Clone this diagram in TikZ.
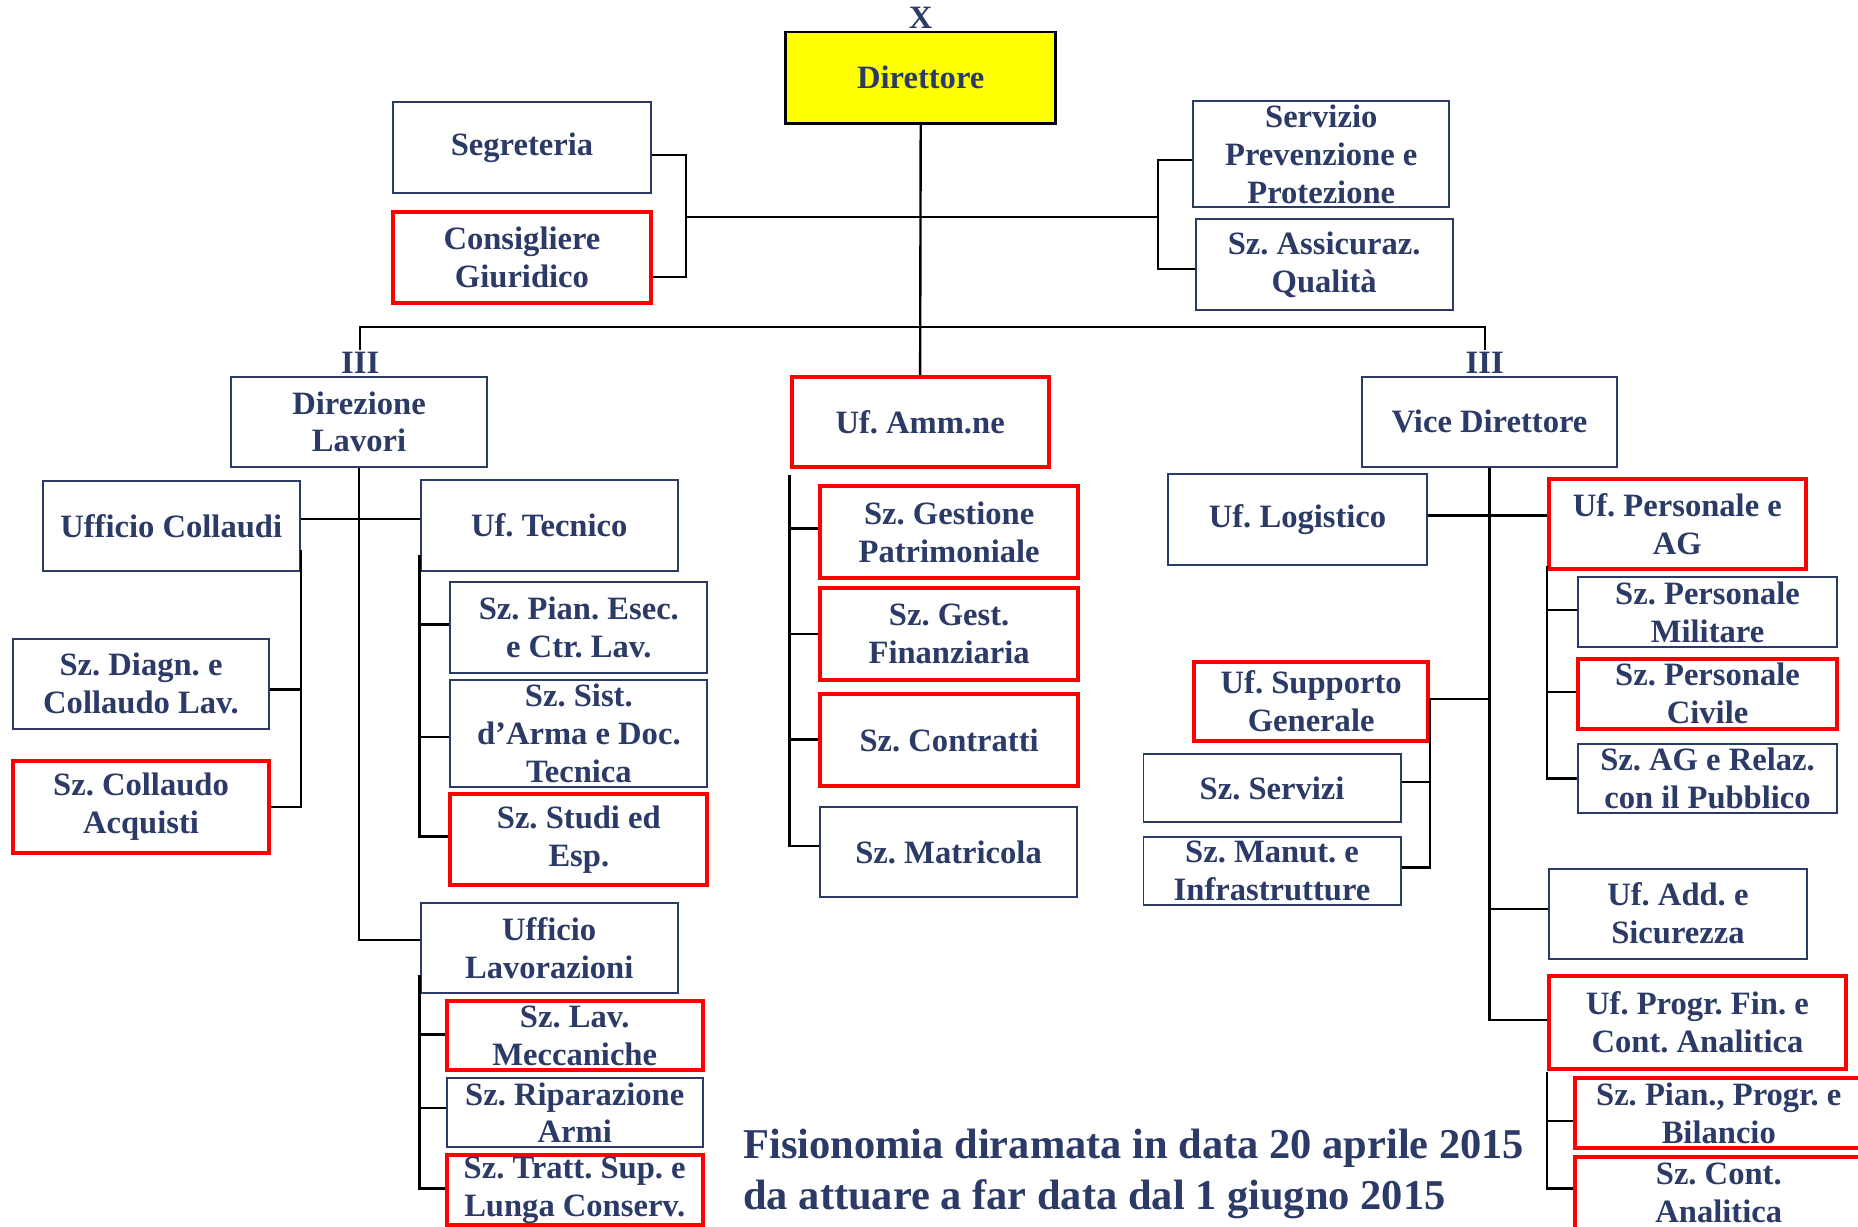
\documentclass[tikz,border=0pt]{standalone}
\usepackage{fontspec}
\setmainfont{Liberation Serif}
\frenchspacing
\definecolor{navy}{HTML}{2B3A66}
\definecolor{boxred}{HTML}{FF0000}
\definecolor{diryellow}{HTML}{FFFF00}
\newcommand\bx[7][box]{%
  \pgfmathsetmacro\bxw{0.6*(#5-#3)}%
  \pgfmathsetmacro\bxh{0.6*(#6-#4)}%
  \node[#1, minimum width=\bxw pt, minimum height=\bxh pt] (#2) at ({(#3+#5)/2},{(#4+#6)/2}) {#7};}
\begin{document}
\begin{tikzpicture}[x=0.6pt,y=-0.6pt,
  box/.style={draw=navy, line width=1pt, text=navy, inner sep=0pt, align=center,
    font=\bfseries\frenchspacing\fontsize{16.5}{19.2}\selectfont},
  redbox/.style={box, draw=boxred, line width=2pt},
  dirbox/.style={box, draw=black, line width=1.4pt, fill=diryellow},
  conn/.style={draw=black, line width=1.2pt},
  lbl/.style={text=navy, inner sep=0pt, font=\bfseries\fontsize{16.5}{19.2}\selectfont},
  caption/.style={text=navy, inner sep=0pt, anchor=base west, font=\bfseries\frenchspacing\fontsize{21.5}{25.8}\selectfont}]
\useasboundingbox[fill=white] (0,0) rectangle (1568,1035);

% top level
\bx[dirbox]{dir}{663}{27}{891}{104}{Direttore}
\node[lbl] (xl) at (777,15) {X};
\bx{seg}{332}{86}{549}{163}{Segreteria}
\bx[redbox]{cons}{332}{179}{549}{256}{Consigliere\\Giuridico}
\bx{spp}{1007}{85}{1223}{175}{Servizio\\Prevenzione e\\Protezione}
\bx{ass}{1009}{185}{1226}{262}{Sz. Assicuraz.\\Qualità}

\bx{dl}{195}{318}{411}{394}{Direzione\\Lavori}
\bx[redbox]{amm}{668}{318}{885}{394}{Uf. Amm.ne}
\bx{vd}{1149}{318}{1365}{394}{Vice Direttore}
\node[lbl] (iiil) at (304,306) {III};
\node[lbl] (iiir) at (1253,306) {III};

% Direzione Lavori subtree
\bx{ucoll}{36}{406}{253}{482}{Ufficio Collaudi}
\bx{utec}{355}{405}{572}{482}{Uf. Tecnico}
\bx{diag}{11}{539}{227}{615}{Sz. Diagn. e\\Collaudo Lav.}
\bx[redbox]{acq}{11}{642}{227}{720}{Sz. Collaudo\\Acquisti}
\bx{pian}{380}{491}{597}{568}{Sz. Pian. Esec.\\e Ctr. Lav.}
\bx{sist}{380}{574}{597}{664}{Sz. Sist.\\d’Arma e Doc.\\Tecnica}
\bx[redbox]{studi}{380}{670}{597}{747}{Sz. Studi ed\\Esp.}
\bx{ulav}{355}{762}{572}{838}{Ufficio\\Lavorazioni}
\bx[redbox]{mecc}{377}{845}{593}{903}{Sz. Lav.\\Meccaniche}
\bx{rip}{377}{910}{593}{968}{Sz. Riparazione\\Armi}
\bx[redbox]{tratt}{377}{975}{593}{1034}{Sz. Tratt. Sup. e\\Lunga Conserv.}

% Uf. Amm.ne subtree
\bx[redbox]{gest}{692}{410}{910}{488}{Sz. Gestione\\Patrimoniale}
\bx[redbox]{fin}{692}{496}{910}{574}{Sz. Gest.\\Finanziaria}
\bx[redbox]{contr}{692}{586}{910}{663}{Sz. Contratti}
\bx{matr}{692}{681}{909}{757}{Sz. Matricola}

% Vice Direttore subtree
\bx{log}{986}{400}{1204}{477}{Uf. Logistico}
\bx[redbox]{supp}{1008}{559}{1205}{625}{Uf. Supporto\\Generale}
\bx{serv}{965}{636}{1182}{694}{Sz. Servizi}
\bx{manut}{965}{706}{1182}{764}{Sz. Manut. e\\Infrastrutture}
\bx[redbox]{pers}{1307}{404}{1524}{480}{Uf. Personale e\\AG}
\bx{mil}{1332}{487}{1550}{546}{Sz. Personale\\Militare}
\bx[redbox]{civ}{1332}{556}{1550}{615}{Sz. Personale\\Civile}
\bx{agr}{1332}{628}{1550}{686}{Sz. AG e Relaz.\\con il Pubblico}
\bx{add}{1307}{733}{1525}{809}{Uf. Add. e\\Sicurezza}
\bx[redbox]{prog}{1307}{824}{1558}{902}{Uf. Progr. Fin. e\\Cont. Analitica}
\bx[redbox]{bil}{1329}{910}{1572}{969}{Sz. Pian., Progr. e\\Bilancio}
\bx[redbox]{cana}{1329}{976}{1572}{1037}{Sz. Cont.\\Analitica}

% caption
\node[caption] (cap1) at (627,978) {Fisionomia diramata in data 20 aprile 2015};
\node[caption] (cap2) at (627,1021) {da attuare a far data dal 1 giugno 2015};

% junction coordinates
\coordinate (jl) at (579,183);
\coordinate (jr) at (977,183);
\coordinate (hl) at (304,276);
\coordinate (hr) at (1253,276);

% connectors: top
\draw[conn] (dir.south) -- (amm.north);
\draw[conn] (jl) -- (jr);
\draw[conn] (seg.east |- 0,131) -| (jl) |- (cons.east |- 0,234);
\draw[conn] (spp.west |- 0,135) -| (jr) |- (ass.west |- 0,227);
\draw[conn] (iiil.north |- 0,295) -- (hl) -- (hr) -- (iiir.north |- 0,295);

% Direzione Lavori
\draw[conn] (dl.south) |- (ulav.west |- 0,793);
\draw[conn] (ucoll.east |- 0,438) -- (utec.west |- 0,438);
\draw[conn] (ucoll.east |- 0,464) |- (acq.east |- 0,681);
\draw[conn] (diag.east |- 0,582) -- (ucoll.east |- 0,582);
\draw[conn] (utec.west |- 0,468) |- (studi.west |- 0,706);
\draw[conn] (pian.west |- 0,527) -- (utec.west |- 0,527);
\draw[conn] (sist.west |- 0,622) -- (utec.west |- 0,622);
\draw[conn] (ulav.west |- 0,823) |- (tratt.west |- 0,1003);
\draw[conn] (mecc.west |- 0,873) -- (ulav.west |- 0,873);
\draw[conn] (rip.west |- 0,935) -- (ulav.west |- 0,935);

% Uf. Amm.ne
\draw[conn] (amm.south west |- 0,401) |- (matr.west |- 0,714);
\draw[conn] (gest.west |- 0,446) -- (amm.west |- 0,446);
\draw[conn] (fin.west |- 0,535) -- (amm.west |- 0,535);
\draw[conn] (contr.west |- 0,624) -- (amm.west |- 0,624);

% Vice Direttore
\draw[conn] (vd.south) |- (prog.west |- 0,861);
\draw[conn] (log.east |- 0,435) -- (pers.west |- 0,435);
\draw[conn] (vd.south |- 0,590) -- (supp.east |- 0,590) |- (manut.east |- 0,732);
\draw[conn] (serv.east |- 0,660) -- (supp.east |- 0,660);
\draw[conn] (vd.south |- 0,767) -- (add.west |- 0,767);
\draw[conn] (pers.west |- 0,478) |- (agr.west |- 0,657);
\draw[conn] (mil.west |- 0,515) -- (pers.west |- 0,515);
\draw[conn] (civ.west |- 0,584) -- (pers.west |- 0,584);
\draw[conn] (prog.west |- 0,905) |- (cana.west |- 0,1003);
\draw[conn] (bil.west |- 0,946) -- (prog.west |- 0,946);
\end{tikzpicture}
\end{document}
